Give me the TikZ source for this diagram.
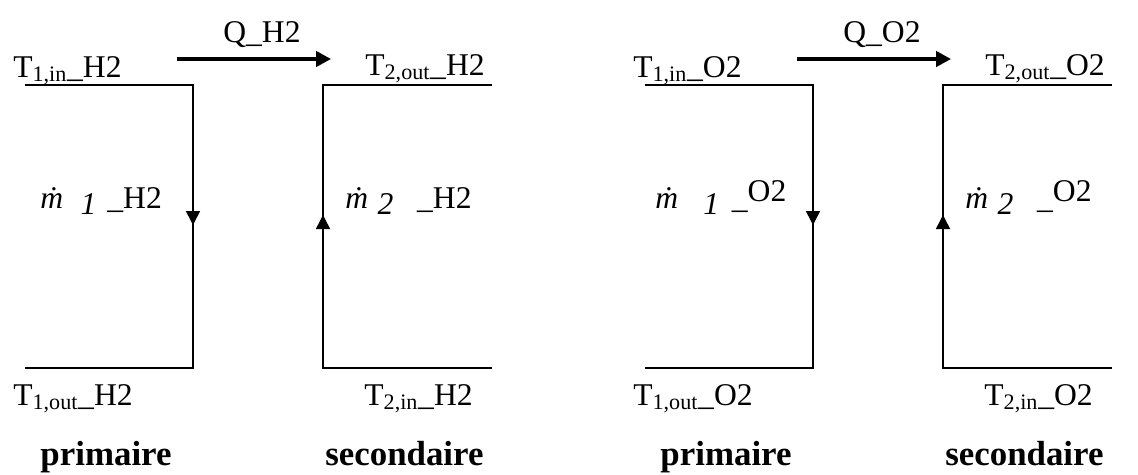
\documentclass[tikz,border=0pt]{standalone}
\usepackage{fontspec}
\setmainfont{Liberation Serif}
\usetikzlibrary{arrows.meta}

% #1 gap before index, #2 index, #3 gap after index, #4 tail
\newcommand{\mdotlab}[4]{\textit{\.m}\hspace{#1}\raisebox{-0.2em}{\textit{#2}}\hspace{#3}#4}

\begin{document}
\begin{tikzpicture}[
    lab/.style={
        inner sep=0pt,
        font=\fontsize{22.5}{27}\selectfont
    },
    title/.style={
        inner sep=0pt,
        font=\fontsize{24.8}{29}\selectfont\bfseries
    },
    pipe/.style={
        line width=1.1pt
    },
    flow/.style={
        line width=1.1pt,
        -{Triangle[length=3.5mm,width=3.5mm]}
    },
    heat/.style={
        line width=2.3pt,
        -{Triangle[length=3.7mm,width=3.8mm]}
    }
]
    \useasboundingbox (0,0) rectangle (28.45,-11.85);

    % ---- H2 ----
    \coordinate (inone_h) at (0.625,-2.125);
    \coordinate (topone_h) at (4.825,-2.125);
    \coordinate (botone_h) at (4.825,-9.2);
    \coordinate (outone_h) at (0.625,-9.2);
    \coordinate (downarr_h) at (4.825,-5.625);

    \coordinate (intwo_h) at (12.3,-9.2);
    \coordinate (bottwo_h) at (8.075,-9.2);
    \coordinate (toptwo_h) at (8.075,-2.125);
    \coordinate (outtwo_h) at (12.3,-2.125);
    \coordinate (uparr_h) at (8.075,-5.375);

    \coordinate (qstart_h) at (4.425,-1.475);
    \coordinate (qend_h) at (8.275,-1.475);

    \node[lab, anchor=base west] (tonein_h) at (0.325,-1.925)
        {T\textsubscript{1,in}\_H2};
    \node[lab, anchor=base east] (ttwoout_h) at (12.125,-1.875)
        {T\textsubscript{2,out}\_H2};
    \node[lab, anchor=base west] (q_h) at (5.575,-1.05) {Q\_H2};
    \node[lab, anchor=base west] (mone_h) at (1.0,-5.2)
        {\mdotlab{0.55em}{1}{0.35em}{\_H2}};
    \node[lab, anchor=base west] (mtwo_h) at (8.625,-5.2)
        {\mdotlab{0.3em}{2}{0.75em}{\_H2}};
    \node[lab, anchor=base west] (toneout_h) at (0.325,-10.125)
        {T\textsubscript{1,out}\_H2};
    \node[lab, anchor=base east] (ttwoin_h) at (11.825,-10.125)
        {T\textsubscript{2,in}\_H2};
    \node[title, anchor=base] (prim_h) at (2.65,-11.625) {primaire};
    \node[title, anchor=base] (sec_h) at (10.11,-11.625) {secondaire};

    \draw[pipe] (inone_h) -- (topone_h) -- (botone_h) -- (outone_h);
    \draw[flow] (topone_h) -- (downarr_h);
    \draw[pipe] (intwo_h) -- (bottwo_h) -- (toptwo_h) -- (outtwo_h);
    \draw[flow] (bottwo_h) -- (uparr_h);
    \draw[heat] (qstart_h) -- (qend_h);

    % ---- O2 ----
    \coordinate (inone_o) at (16.125,-2.125);
    \coordinate (topone_o) at (20.325,-2.125);
    \coordinate (botone_o) at (20.325,-9.2);
    \coordinate (outone_o) at (16.125,-9.2);
    \coordinate (downarr_o) at (20.325,-5.625);

    \coordinate (intwo_o) at (27.8,-9.2);
    \coordinate (bottwo_o) at (23.575,-9.2);
    \coordinate (toptwo_o) at (23.575,-2.125);
    \coordinate (outtwo_o) at (27.8,-2.125);
    \coordinate (uparr_o) at (23.575,-5.375);

    \coordinate (qstart_o) at (19.925,-1.475);
    \coordinate (qend_o) at (23.775,-1.475);

    \node[lab, anchor=base west] (tonein_o) at (15.825,-1.925)
        {T\textsubscript{1,in}\_O2};
    \node[lab, anchor=base east] (ttwoout_o) at (27.625,-1.875)
        {T\textsubscript{2,out}\_O2};
    \node[lab, anchor=base west] (q_o) at (21.075,-1.05) {Q\_O2};
    \node[lab, anchor=base west] (mone_o) at (16.375,-5.2)
        {\mdotlab{0.8em}{1}{0.4em}{\_\raisebox{0.2em}{O2}}};
    \node[lab, anchor=base west] (mtwo_o) at (24.125,-5.2)
        {\mdotlab{0.3em}{2}{0.75em}{\_\raisebox{0.2em}{O2}}};
    \node[lab, anchor=base west] (toneout_o) at (15.825,-10.125)
        {T\textsubscript{1,out}\_O2};
    \node[lab, anchor=base east] (ttwoin_o) at (27.325,-10.125)
        {T\textsubscript{2,in}\_O2};
    \node[title, anchor=base] (prim_o) at (18.15,-11.625) {primaire};
    \node[title, anchor=base] (sec_o) at (25.61,-11.625) {secondaire};

    \draw[pipe] (inone_o) -- (topone_o) -- (botone_o) -- (outone_o);
    \draw[flow] (topone_o) -- (downarr_o);
    \draw[pipe] (intwo_o) -- (bottwo_o) -- (toptwo_o) -- (outtwo_o);
    \draw[flow] (bottwo_o) -- (uparr_o);
    \draw[heat] (qstart_o) -- (qend_o);
\end{tikzpicture}
\end{document}
